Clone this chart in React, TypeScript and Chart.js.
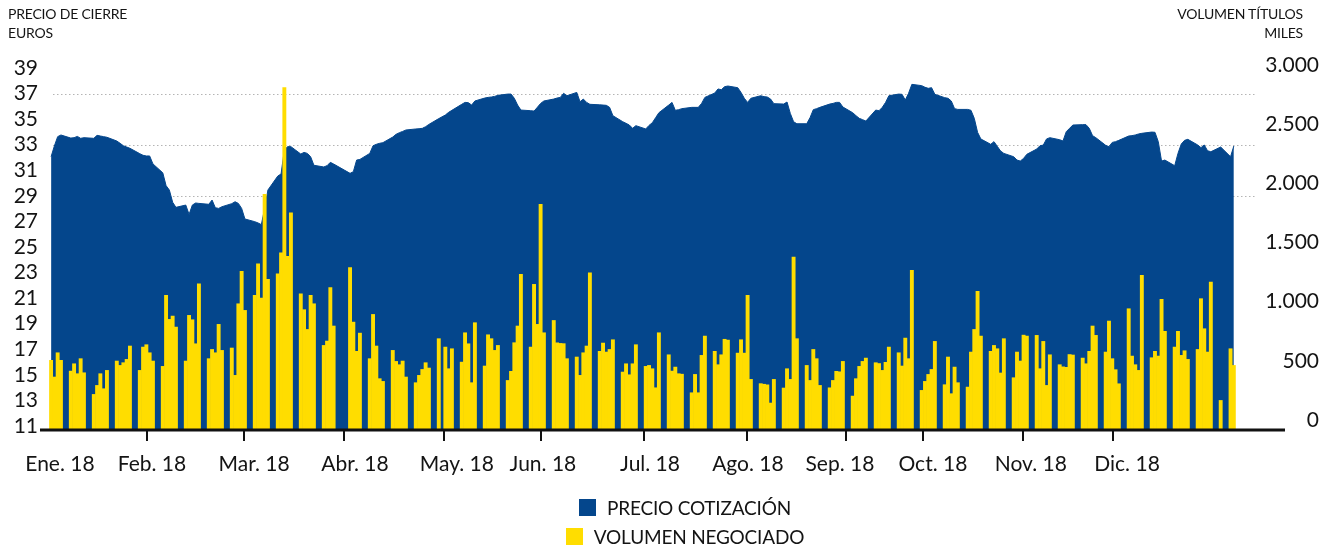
import { useEffect, useRef } from 'react';
import { Chart, registerables } from 'chart.js';

Chart.register(...registerables);

// ---------- calendar ----------
const YEAR = 2018;
const HOLIDAYS = ['2018-01-01', '2018-03-30', '2018-04-02', '2018-05-01', '2018-12-25', '2018-12-26'];
const LAST_DAY = '2018-12-28';

// ---------- axis labels ----------
const MONTH_LABELS = ['Ene. 18', 'Feb. 18', 'Mar. 18', 'Abr. 18', 'May. 18', 'Jun. 18', 'Jul. 18', 'Ago. 18', 'Sep. 18', 'Oct. 18', 'Nov. 18', 'Dic. 18'];
// day-of-year (0 = 1 Jan) where each month label is centred
const MONTH_LABEL_DAYS = [3.7, 31.7, 62.8, 93.5, 124.5, 150.7, 183.3, 213.1, 241.1, 269.4, 299.2, 328.5];
// day-of-year where the month tick marks sit
const MONTH_TICK_DAYS = [30.2, 59.7, 90.2, 120.6, 150.1, 181.5, 212.8, 242.9, 266.4, 296.8, 324.2];
const PRICE_TICKS = [11, 13, 15, 17, 19, 21, 23, 25, 27, 29, 31, 33, 35, 37, 39];
const PRICE_GRID = [37, 33, 29];
const VOLUME_TICKS = [0, 500, 1000, 1500, 2000, 2500, 3000];

// ---------- closing price (euros), one value per trading day ----------
const priceEne = [32.06, 32.9, 33.63, 33.76, 33.52, 33.55, 33.65, 33.5, 33.55, 33.5, 33.73, 33.68, 33.63, 33.58, 33.29, 33.11, 32.92, 32.82, 32.72, 32.3, 32.17, 32.12];
const priceFeb = [32.12, 31.5, 30.8, 29.8, 29.45, 28.5, 28.1, 28.28, 27.55, 28.28, 28.44, 28.41, 28.34, 28.67, 28.07, 28.02, 28.15, 28.39, 28.54, 28.41];
const priceMar = [28.02, 27.19, 26.98, 26.88, 26.75, 28.0, 29.46, 30.55, 30.71, 32.6, 32.85, 32.85, 32.27, 32.4, 32.32, 32.06, 31.39, 31.26, 31.36, 31.62, 31.49];
const priceAbr = [30.76, 30.89, 31.8, 31.85, 32.32, 32.92, 33.03, 33.11, 33.16, 33.6, 33.81, 33.94, 34.04, 34.15, 34.23, 34.25, 34.28, 34.41, 34.59, 35.04];
const priceMay = [35.32, 35.53, 35.69, 36.16, 36.31, 36.29, 36.1, 36.42, 36.65, 36.7, 36.73, 36.78, 36.86, 36.96, 36.96, 36.63, 36.1, 35.71, 35.66, 35.63, 35.92, 36.23];
const priceJun = [36.42, 36.57, 36.65, 36.7, 37.02, 36.83, 37.09, 36.36, 36.57, 36.31, 36.16, 36.12, 36.1, 36.08, 35.92, 35.27, 34.8, 34.67, 34.54, 34.28, 34.49];
const priceJul = [34.23, 34.51, 34.72, 35.11, 35.5, 36.1, 36.31, 35.69, 35.74, 35.82, 35.92, 35.92, 35.92, 36.23, 36.7, 37.04, 37.36, 37.3, 37.54, 37.59, 37.46, 37.09];
const priceAgo = [36.63, 36.31, 36.63, 36.83, 36.76, 36.73, 36.57, 36.21, 36.18, 36.34, 35.45, 34.8, 34.64, 34.64, 35.11, 35.74, 35.82, 35.92, 36.18, 36.23, 36.31, 36.31, 35.95];
const priceSep = [35.5, 35.27, 35.06, 34.96, 34.85, 35.71, 35.66, 35.92, 36.31, 36.83, 36.96, 36.94, 36.5, 37.02, 37.72, 37.62, 37.49, 37.41, 37.46, 36.94];
const priceOct = [36.68, 36.63, 36.42, 35.82, 35.76, 35.76, 35.69, 35.06, 33.97, 33.45, 33.03, 33.24, 32.87, 32.51, 32.32, 32.06, 31.8, 31.72, 31.93, 32.25, 32.66, 32.92, 32.97];
const priceNov = [33.45, 33.55, 33.39, 33.29, 34.02, 34.28, 34.54, 34.57, 34.57, 34.28, 33.71, 33.55, 32.95, 32.85, 33.18, 33.24, 33.34, 33.68, 33.71, 33.76, 33.84, 33.89];
const priceDic = [33.99, 33.97, 33.24, 31.72, 31.8, 31.36, 32.32, 33.05, 33.34, 33.42, 32.98, 32.77, 32.98, 32.53, 32.45, 32.82, 32.06, 32.9];

// ---------- traded volume (thousands of shares), one value per trading day ----------
const volEne = [507, 366, 571, 507, 416, 478, 394, 521, 402, 219, 295, 394, 267, 422, 501, 464, 487, 515, 628, 422, 619, 639];
const volFeb = [571, 501, 456, 1056, 853, 881, 788, 501, 887, 850, 647, 1154, 521, 599, 571, 811, 591, 611, 380, 985];
const volMar = [1259, 929, 1056, 1323, 1033, 1909, 1191, 1239, 1416, 2811, 1385, 1754, 1070, 935, 768, 1056, 985, 633, 670, 1121, 797];
const volAbr = [1290, 830, 583, 737, 521, 895, 628, 352, 329, 591, 498, 470, 501, 366, 318, 380, 430, 487, 442, 690];
const volMay = [619, 436, 605, 492, 740, 647, 318, 825, 459, 723, 690, 591, 633, 337, 414, 656, 797, 1233, 619, 1149, 811, 1825];
const volJun = [740, 844, 655, 650, 648, 521, 535, 380, 571, 628, 1247, 583, 653, 577, 599, 681, 408, 478, 385, 478, 639];
const volJul = [456, 464, 436, 275, 740, 554, 416, 450, 394, 390, 233, 388, 233, 549, 712, 583, 470, 554, 685, 678, 568, 681];
const volAgo = [568, 1056, 346, 310, 305, 300, 146, 346, 273, 436, 346, 1380, 690, 464, 337, 599, 521, 295, 275, 337, 414, 410, 498];
const volSep = [205, 352, 456, 498, 526, 487, 480, 422, 490, 619, 571, 459, 695, 521, 1267, 253, 329, 388, 430, 667];
const volOct = [301, 535, 225, 450, 318, 281, 577, 768, 1090, 712, 583, 633, 605, 400, 690, 360, 577, 501, 720, 712, 718, 436, 667];
const volNov = [295, 554, 470, 452, 448, 556, 552, 526, 478, 583, 797, 718, 577, 839, 521, 428, 309, 943, 543, 470, 422, 1225];
const volDic = [529, 583, 543, 1022, 752, 619, 752, 549, 588, 515, 599, 1028, 774, 577, 1169, 168, 605, 464];

const PRICES = [priceEne, priceFeb, priceMar, priceAbr, priceMay, priceJun, priceJul, priceAgo, priceSep, priceOct, priceNov, priceDic];
const VOLUMES = [volEne, volFeb, volMar, volAbr, volMay, volJun, volJul, volAgo, volSep, volOct, volNov, volDic];

const BLUE = '#04468c';
const YELLOW = '#ffdd00';
const TEXT = '#141414';

function tradingDays(month: number): number[] {
  const out: number[] = [];
  const start = Date.UTC(YEAR, 0, 1);
  const last = Date.parse(LAST_DAY + 'T00:00:00Z');
  const n = new Date(Date.UTC(YEAR, month + 1, 0)).getUTCDate();
  for (let day = 1; day <= n; day++) {
    const t = Date.UTC(YEAR, month, day);
    const dt = new Date(t);
    const wd = dt.getUTCDay();
    if (wd === 0 || wd === 6) continue;
    if (HOLIDAYS.includes(dt.toISOString().slice(0, 10))) continue;
    if (t > last) continue;
    out.push((t - start) / 86400000);
  }
  return out;
}

function buildSeries() {
  const price: { x: number; y: number }[] = [];
  const volume: { x: number; y: number }[] = [];
  for (let m = 0; m < 12; m++) {
    const days = tradingDays(m);
    days.forEach((d, i) => {
      if (PRICES[m][i] !== undefined) price.push({ x: d, y: PRICES[m][i] });
      if (VOLUMES[m][i] !== undefined) volume.push({ x: d, y: VOLUMES[m][i] });
    });
  }
  return { price, volume };
}

function fmtThousands(v: number): string {
  const s = String(Math.round(v));
  return s.replace(/\B(?=(\d{3})+(?!\d))/g, '.');
}

const dottedGrid = {
  id: 'dottedGrid',
  beforeDatasetsDraw(chart: any) {
    const { ctx, chartArea, scales } = chart;
    ctx.save();
    ctx.strokeStyle = '#b4b4b4';
    ctx.lineWidth = 1;
    ctx.setLineDash([1.5, 2.5]);
    for (const v of PRICE_GRID) {
      const y = Math.round(scales.yL.getPixelForValue(v)) + 0.5;
      ctx.beginPath();
      ctx.moveTo(chartArea.left + 5, y);
      ctx.lineTo(chartArea.right + 10, y);
      ctx.stroke();
    }
    ctx.restore();
  },
};

const baseAxis = {
  id: 'baseAxis',
  afterDatasetsDraw(chart: any) {
    const { ctx, chartArea, scales } = chart;
    const y = chartArea.bottom;
    ctx.save();
    ctx.strokeStyle = '#111';
    ctx.lineWidth = 3;
    ctx.beginPath();
    ctx.moveTo(chartArea.left - 8, y);
    ctx.lineTo(chartArea.right + 40, y);
    ctx.stroke();
    ctx.lineWidth = 2;
    for (const v of MONTH_TICK_DAYS) {
      const x = Math.round(scales.x.getPixelForValue(v));
      ctx.beginPath();
      ctx.moveTo(x, y);
      ctx.lineTo(x, y + 11);
      ctx.stroke();
    }
    ctx.restore();
  },
};

export default function App() {
  const ref = useRef<HTMLCanvasElement | null>(null);

  useEffect(() => {
    if (!ref.current) return;
    Chart.defaults.font.family = 'Lato, "Open Sans", sans-serif';
    const { price, volume } = buildSeries();
    const chart = new Chart(ref.current, {
      type: 'bar',
      data: {
        datasets: [
          {
            type: 'bar',
            label: 'VOLUMEN NEGOCIADO',
            data: volume as any,
            yAxisID: 'yR',
            xAxisID: 'x',
            backgroundColor: YELLOW,
            borderWidth: 0,
            barThickness: 3.9,
            inflateAmount: 0,
            base: -84.5,
            order: 0,
          } as any,
          {
            type: 'line',
            label: 'PRECIO COTIZACIÓN',
            data: price as any,
            yAxisID: 'yL',
            xAxisID: 'x',
            backgroundColor: BLUE,
            borderColor: BLUE,
            borderWidth: 1,
            pointRadius: 0,
            tension: 0,
            fill: 'start',
            order: 1,
          } as any,
        ],
      },
      options: {
        responsive: false,
        animation: false,
        devicePixelRatio: 1,
        events: [],
        layout: { padding: { top: 65, left: 0, right: 0, bottom: 0 }, autoPadding: false } as any,
        plugins: { legend: { display: false }, tooltip: { enabled: false } },
        scales: {
          x: {
            type: 'linear',
            min: 0.06,
            max: 364.4,
            offset: false,
            grid: { display: false },
            border: { display: false },
            afterBuildTicks: (s: any) => {
              s.ticks = MONTH_LABEL_DAYS.map((v) => ({ value: v }));
            },
            afterFit: (s: any) => {
              s.height = 117;
            },
            ticks: {
              autoSkip: false,
              maxRotation: 0,
              minRotation: 0,
              padding: 14,
              color: TEXT,
              font: { size: 21 },
              callback: (_v: any, i: number) => MONTH_LABELS[i],
            },
          },
          yL: {
            type: 'linear',
            position: 'left',
            min: 10.687,
            max: 39.234,
            grid: { display: false },
            border: { display: false },
            afterBuildTicks: (s: any) => {
              s.ticks = PRICE_TICKS.map((v) => ({ value: v }));
            },
            afterFit: (s: any) => {
              s.width = 48;
            },
            ticks: { autoSkip: false, padding: 2, color: TEXT, font: { size: 21 } },
          },
          yR: {
            type: 'linear',
            position: 'right',
            min: -84.5,
            max: 3000,
            grid: { display: false },
            border: { display: false },
            afterBuildTicks: (s: any) => {
              s.ticks = VOLUME_TICKS.map((v) => ({ value: v }));
            },
            afterFit: (s: any) => {
              s.width = 74;
            },
            ticks: {
              autoSkip: false,
              crossAlign: 'far',
              padding: 5,
              color: TEXT,
              font: { size: 21 },
              callback: (v: any) => fmtThousands(Number(v)),
            },
          },
        },
      } as any,
      plugins: [dottedGrid, baseAxis],
    });
    return () => chart.destroy();
  }, []);

  const titleStyle: any = {
    position: 'absolute',
    top: 5,
    fontSize: 14,
    lineHeight: '18.5px',
    color: TEXT,
    letterSpacing: '-0.2px',
  };
  const square = (c: string): any => ({ width: 17, height: 17, background: c, flex: '0 0 auto' });
  const rowStyle: any = { display: 'flex', alignItems: 'center', height: 29, gap: 11 };
  const legendText: any = { fontSize: 19, lineHeight: 1, color: TEXT, letterSpacing: '-0.2px', whiteSpace: 'nowrap' };

  return (
    <div
      style={{
        position: 'absolute',
        left: 0,
        top: 0,
        width: 1319,
        height: 547,
        background: '#fff',
        fontFamily: 'Lato, "Open Sans", sans-serif',
        overflow: 'hidden',
      }}
    >
      <canvas ref={ref} width={1319} height={547} style={{ position: 'absolute', left: 0, top: 0 }} />
      <div style={{ ...titleStyle, left: 8 }}>
        PRECIO DE CIERRE
        <br />
        EUROS
      </div>
      <div style={{ ...titleStyle, right: 16, textAlign: 'right' }}>
        VOLUMEN TÍTULOS
        <br />
        MILES
      </div>
      <div
        style={{
          position: 'absolute',
          left: 385,
          width: 600,
          top: 493,
          display: 'flex',
          flexDirection: 'column',
          alignItems: 'center',
        }}
      >
        <div style={rowStyle}>
          <div style={square(BLUE)} />
          <span style={legendText}>PRECIO COTIZACIÓN</span>
        </div>
        <div style={rowStyle}>
          <div style={square(YELLOW)} />
          <span style={legendText}>VOLUMEN NEGOCIADO</span>
        </div>
      </div>
    </div>
  );
}
